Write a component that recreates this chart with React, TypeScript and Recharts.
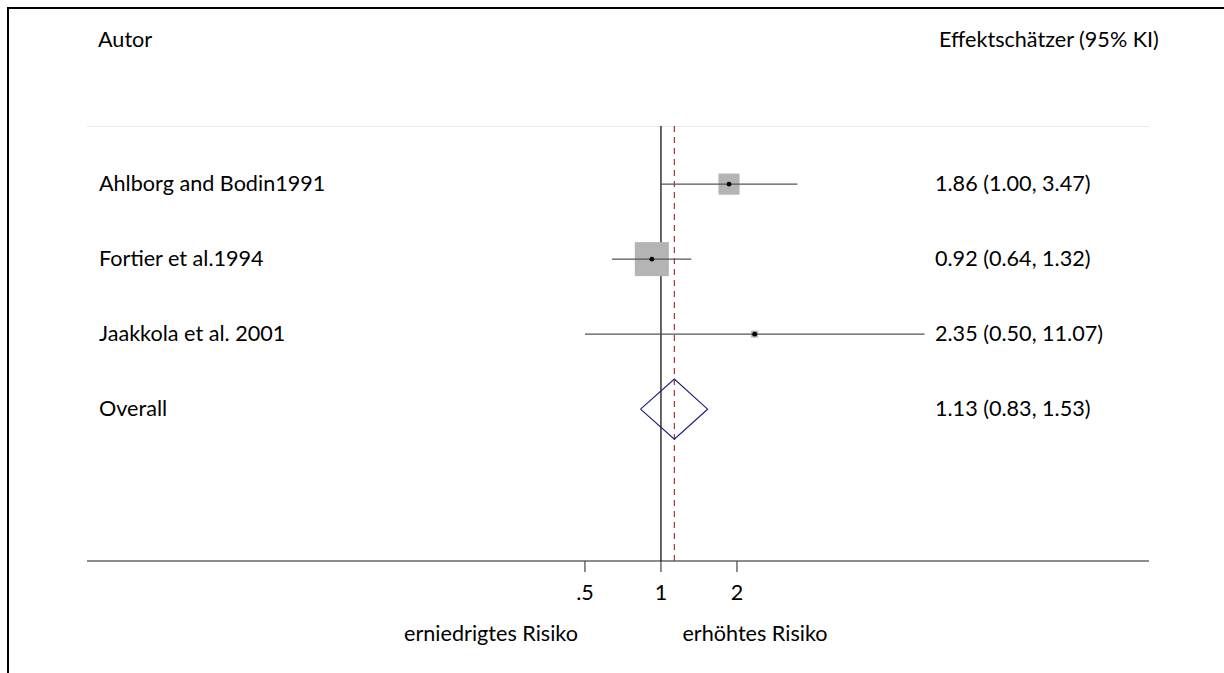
import React from 'react'
import { ComposedChart, XAxis, YAxis, Scatter, Label } from 'recharts'

// studies (rows 1..3) and pooled estimate (row 4)
const studies = ['Ahlborg and Bodin1991', 'Fortier et al.1994', 'Jaakkola et al. 2001']
const estimates = [1.86, 0.92, 2.35]
const lower = [1.0, 0.64, 0.5]
const upper = [3.47, 1.32, 11.07]
const weights = [27.2, 70.6, 3.0] // % weight

const overallLabel = 'Overall'
const overallEst = 1.13
const overallLo = 0.83
const overallHi = 1.53

const xTicks = [0.5, 1, 2]

const FONT = 'Lato, "Open Sans", sans-serif'
const FS = 21.6
const Y_DOMAIN: [number, number] = [0.225, 6.025]

const rowLabels = [...studies, overallLabel]
const rowValues = [
  ...estimates.map((e, i) => [e, lower[i], upper[i]]),
  [overallEst, overallLo, overallHi],
].map(([e, l, h]) => `${e.toFixed(2)} (${l.toFixed(2)}, ${h.toFixed(2)})`)

const boxData = estimates.map((e, i) => ({ x: e, y: i + 1, w: weights[i] }))
const diamondData = [
  { x: overallLo, y: 4 },
  { x: overallEst, y: 3.6 },
  { x: overallHi, y: 4 },
  { x: overallEst, y: 4.4 },
  { x: overallLo, y: 4 },
]

const fmtTick = (v: number) => (v < 1 ? String(v).replace(/^0/, '') : String(v))

const Empty = () => <g />

const BoxShape = (props: any) => {
  const { cx, cy, payload } = props
  const s = 4.05 * Math.sqrt(payload.w)
  return <rect x={cx - s / 2} y={cy - s / 2} width={s} height={s} fill="#b4b4b4" />
}

const DotShape = (props: any) => <circle cx={props.cx} cy={props.cy} r={2.4} fill="#000" />

const LeftTick = (props: any) => (
  <text x={99} y={props.y} dy="0.33em" fontSize={FS} fontFamily={FONT} fill="#000">
    {rowLabels[props.payload.value - 1]}
  </text>
)

const RightTick = (props: any) => (
  <text x={935} y={props.y} dy="0.33em" fontSize={FS} fontFamily={FONT} fill="#000">
    {rowValues[props.payload.value - 1]}
  </text>
)

const XTick = (props: any) => (
  <text x={props.x} y={props.y + 26} textAnchor="middle" fontSize={FS} fontFamily={FONT} fill="#000">
    {fmtTick(props.payload.value)}
  </text>
)

export default function App() {
  return (
    <div style={{ position: 'absolute', left: 0, top: 0, width: 1224, height: 673, background: '#fff' }}>
      <div
        style={{
          position: 'absolute',
          left: 7,
          top: 7,
          width: 1217,
          height: 666,
          boxSizing: 'border-box',
          borderTop: '2px solid #000',
          borderLeft: '2px solid #000',
        }}
      />
      <div style={{ position: 'absolute', left: 0, top: 0 }}>
        <ComposedChart width={1224} height={673} margin={{ top: 126, right: 75, bottom: 82, left: 87 }}>
          <XAxis
            dataKey="x"
            type="number"
            scale="log"
            domain={[0.00533, 85.7]}
            allowDataOverflow
            ticks={xTicks}
            tick={<XTick />}
            tickSize={11}
            height={30}
            axisLine={{ stroke: '#666', strokeWidth: 1.3 }}
            tickLine={{ stroke: '#444', strokeWidth: 1.2 }}
          >
            <Label
              content={() => (
                <g fontSize={FS} fontFamily={FONT} fill="#000">
                  <text x={491} y={641} textAnchor="middle">erniedrigtes Risiko</text>
                  <text x={755} y={641} textAnchor="middle">erhöhtes Risiko</text>
                </g>
              )}
            />
          </XAxis>
          <YAxis
            yAxisId="l"
            type="number"
            domain={Y_DOMAIN}
            reversed
            allowDataOverflow
            mirror
            ticks={[1, 2, 3, 4]}
            tick={<LeftTick />}
            axisLine={false}
            tickLine={false}
          >
            <Label
              content={() => (
                <text x={98} y={47} fontSize={FS} fontFamily={FONT} fill="#000">
                  Autor
                </text>
              )}
            />
          </YAxis>
          <YAxis
            yAxisId="r"
            orientation="right"
            type="number"
            domain={Y_DOMAIN}
            reversed
            allowDataOverflow
            mirror
            ticks={[1, 2, 3, 4]}
            tick={<RightTick />}
            axisLine={false}
            tickLine={false}
          >
            <Label
              content={() => (
                <text x={939} y={47} fontSize={FS} fontFamily={FONT} fill="#000">
                  Effektschätzer (95% KI)
                </text>
              )}
            />
          </YAxis>

          {/* grey rule under the header */}
          <Scatter
            yAxisId="l"
            data={[{ x: 0.00533, y: Y_DOMAIN[0] }, { x: 85.7, y: Y_DOMAIN[0] }]}
            dataKey="y"
            line={{ stroke: '#d6d6d6', strokeWidth: 1.2 }}
            shape={Empty}
            isAnimationActive={false}
          />
          {/* null line at 1 */}
          <Scatter
            yAxisId="l"
            data={[{ x: 1, y: Y_DOMAIN[0] }, { x: 1, y: Y_DOMAIN[1] }]}
            dataKey="y"
            line={{ stroke: '#000', strokeWidth: 1.2 }}
            shape={Empty}
            isAnimationActive={false}
          />
          {/* overall estimate line */}
          <Scatter
            yAxisId="l"
            data={[{ x: overallEst, y: Y_DOMAIN[0] }, { x: overallEst, y: Y_DOMAIN[1] }]}
            dataKey="y"
            line={{ stroke: '#a8323e', strokeWidth: 1.2, strokeDasharray: '6 5' }}
            shape={Empty}
            isAnimationActive={false}
          />
          <Scatter yAxisId="l" data={boxData} dataKey="y" shape={BoxShape} isAnimationActive={false} />
          {studies.map((s, i) => (
            <Scatter
              key={s}
              yAxisId="l"
              data={[{ x: lower[i], y: i + 1 }, { x: upper[i], y: i + 1 }]}
              dataKey="y"
              line={{ stroke: '#555', strokeWidth: 1.3 }}
              shape={Empty}
              isAnimationActive={false}
            />
          ))}
          <Scatter yAxisId="l" data={boxData} dataKey="y" shape={DotShape} isAnimationActive={false} />
          <Scatter
            yAxisId="l"
            data={diamondData}
            dataKey="y"
            line={{ stroke: '#1c1c84', strokeWidth: 1.2 }}
            shape={Empty}
            isAnimationActive={false}
          />
        </ComposedChart>
      </div>
    </div>
  )
}
